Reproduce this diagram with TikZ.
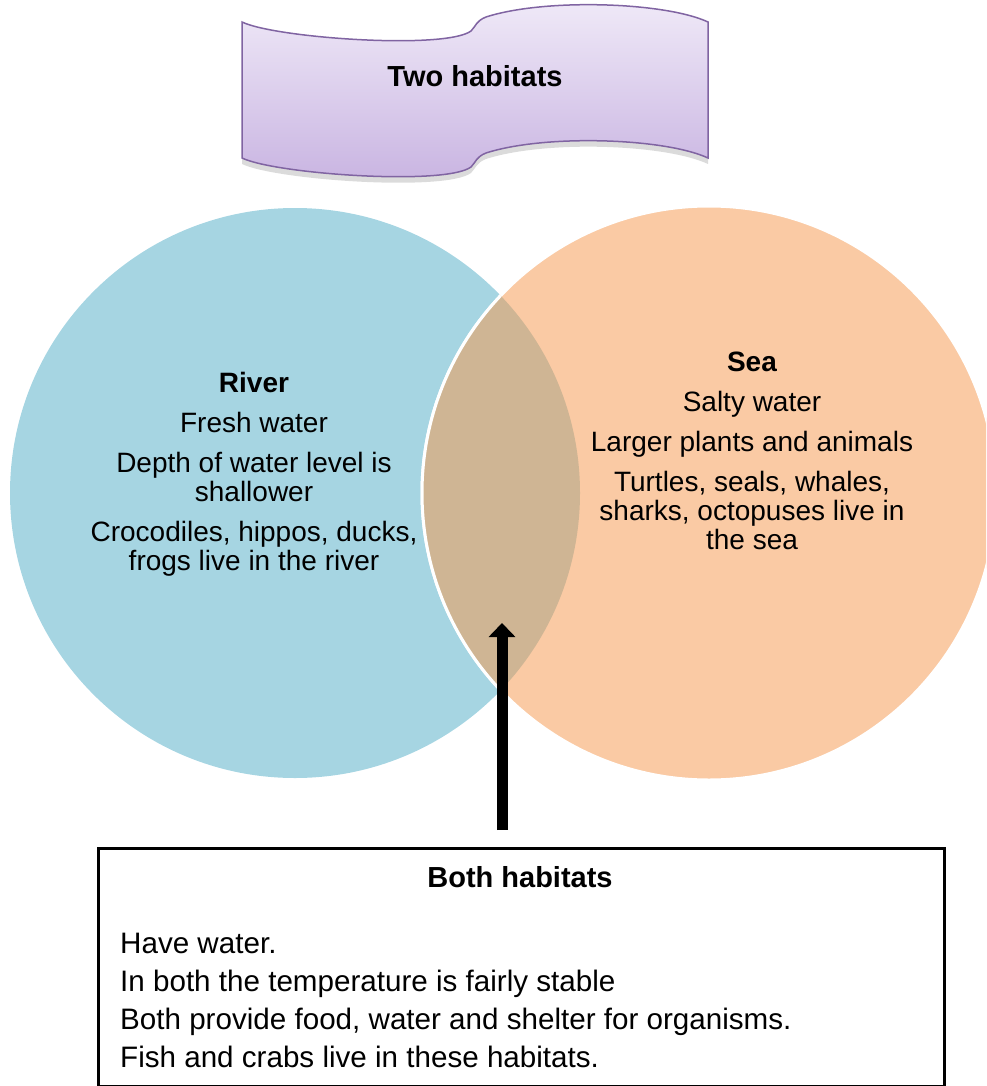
\documentclass[tikz,border=0pt]{standalone}
\usepackage{fontspec}
\setmainfont{Liberation Sans}
\usetikzlibrary{arrows.meta}
\definecolor{riverblue}{HTML}{A6D5E2}
\definecolor{seapeach}{HTML}{FACAA4}
\definecolor{lensbrown}{HTML}{CFB594}
\definecolor{bannerline}{HTML}{8064A2}
\definecolor{bannertop}{HTML}{F0EAF8}
\definecolor{bannerbot}{HTML}{C8B3E1}
\tikzset{
  circtext/.style={align=center, inner sep=0pt, anchor=north, font=\fontsize{28}{29}\selectfont},
  boxline/.style={inner sep=0pt, anchor=base west, font=\fontsize{29.6}{34}\selectfont},
  titletext/.style={inner sep=0pt, anchor=base, font=\fontsize{29}{34}\selectfont\bfseries},
  bigarrow/.style={line width=11pt, -{Triangle[width=26pt,length=14pt]}},
}
\begin{document}
\begin{tikzpicture}[x=1pt,y=-1pt]
\useasboundingbox (0,0) rectangle (986,1086);
\clip (0,0) rectangle (986,1086);
% banner shadow
\fill[black, opacity=0.14] (242,27) .. controls (275,43) and (445,55) .. (471,36)
  .. controls (476,31) and (476,26) .. (486,22)
  .. controls (545,3) and (665,7) .. (708,27)
  -- (708,164)
  .. controls (665,144) and (545,140) .. (486,159)
  .. controls (476,163) and (476,168) .. (471,173)
  .. controls (445,192) and (275,180) .. (242,164) -- cycle;
% banner
\shade[top color=bannertop, bottom color=bannerbot, draw=bannerline, line width=1.5pt]
  (242,22) .. controls (275,38) and (445,50) .. (471,31)
  .. controls (476,26) and (476,21) .. (486,17)
  .. controls (545,-2) and (665,2) .. (708,22)
  -- (708,158)
  .. controls (665,138) and (545,134) .. (486,153)
  .. controls (476,157) and (476,162) .. (471,167)
  .. controls (445,186) and (275,174) .. (242,158) -- cycle;
\node[titletext] (bannertitle) at (475,87) {Two habitats};
% circles
\fill[riverblue] (295,493) circle (285);
\filldraw[fill=seapeach, draw=white, line width=3pt] (709,493) circle (287);
\begin{scope}
  \clip (295,493) circle (285);
  \filldraw[fill=lensbrown, draw=white, line width=3pt] (709,493) circle (287);
\end{scope}
\node[circtext] (river) at (254,372) {\textbf{River}\\[11pt]Fresh water\\[11pt]Depth of water level is\\shallower\\[11pt]Crocodiles, hippos, ducks,\\frogs live in the river};
\node[circtext] (sea) at (752,352) {\textbf{Sea}\\[11pt]Salty water\\[11pt]Larger plants and animals\\[11pt]Turtles, seals, whales,\\sharks, octopuses live in\\the sea};
% box
\node[draw, line width=3pt, minimum width=846pt, minimum height=238pt, inner sep=0pt, anchor=north west] (both) at (97,847) {};
\node[titletext] (bothtitle) at (520,887) {Both habitats};
\node[boxline] (l1) at (120,953) {Have water.};
\node[boxline] (l2) at (120,991) {In both the temperature is fairly stable};
\node[boxline] (l3) at (120,1029) {Both provide food, water and shelter for organisms.};
\node[boxline] (l4) at (120,1067) {Fish and crabs live in these habitats.};
% arrow
\coordinate (arrowtail) at (502,830);
\coordinate (lenspoint) at (502,623);
\draw[bigarrow] (arrowtail) -- (lenspoint);
\end{tikzpicture}
\end{document}
